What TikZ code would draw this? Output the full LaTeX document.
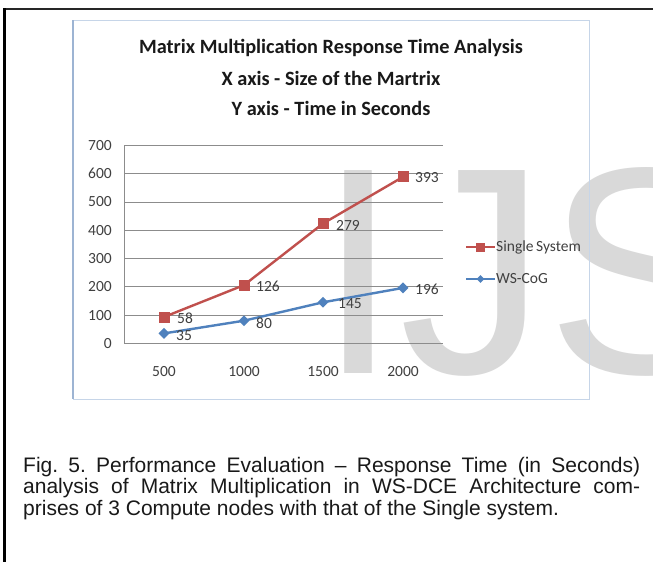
\documentclass[tikz,border=0pt]{standalone}
\usepackage{fontspec}
\usetikzlibrary{shapes.geometric}
\setmainfont{Liberation Sans}
\newfontfamily\calib{Carlito}
\frenchspacing
\definecolor{exred}{HTML}{C0504D}
\definecolor{exblue}{HTML}{4F81BD}
\definecolor{gridgray}{HTML}{8C8C8C}
\definecolor{chartframe}{HTML}{C6D5E8}
\definecolor{chartleft}{HTML}{9DB4D3}
\definecolor{wmgray}{HTML}{D9D9D9}
\definecolor{lbl}{HTML}{404040}
\begin{document}
\begin{tikzpicture}[x=1pt,y=-1pt,
  charttitle/.style={font=\calib\bfseries\fontsize{20.3}{24}\selectfont, text=black!90, inner sep=0},
  ticklbl/.style={font=\calib\fontsize{15.5}{18}\selectfont, text=lbl, inner sep=0},
  datalbl/.style={font=\calib\fontsize{15.5}{18}\selectfont, text=lbl, inner sep=0, anchor=west},
  gridline/.style={draw=gridgray, line width=1pt},
  redline/.style={draw=exred, line width=2.4pt},
  blueline/.style={draw=exblue, line width=2.4pt},
  redmark/.style={rectangle, fill=exred, minimum size=11pt, inner sep=0},
  bluemark/.style={diamond, fill=exblue, minimum width=11pt, minimum height=11pt, inner sep=0},
  legmark/.style={rectangle, fill=exred, minimum size=9pt, inner sep=0},
  legbmark/.style={diamond, fill=exblue, minimum width=8pt, minimum height=8pt, inner sep=0},
]
\clip (0,0) rectangle (653,562);
\fill[white] (0,0) rectangle (653,562);

% watermark
\node[anchor=base west, font=\fontsize{295}{295}\selectfont, text=wmgray, inner sep=0] (wm) at (317,373) {IJS};

% outer frame
\draw[line width=2.6pt, black!85] (3,9) -- (653,9);
\draw[line width=2.2pt, black] (4.5,8) -- (4.5,562);

% chart frame
\draw[chartframe, line width=1pt] (73,20) rectangle (589,399);
\draw[chartleft, line width=1.6pt] (73,20) -- (73,399);

% title
\node[charttitle] (t1) at (331,48) {Matrix Multiplication Response Time Analysis};
\node[charttitle] (t2) at (331,78) {X axis - Size of the Martrix};
\node[charttitle] (t3) at (331,108) {Y axis - Time in Seconds};

% grid and axis
\foreach \v/\w in {0/1.2,100/0.8,200/1.2,300/0.8,400/1.2,500/0.8,600/1.2,700/1} {
  \draw[gridline, line width=\w pt] (124,{343.3-0.2826*\v}) -- (443,{343.3-0.2826*\v});
  \node[ticklbl, anchor=east] (y\v) at (112,{343.3-0.2826*\v}) {\v};
}
\draw[gridline] (124,145) -- (124,343.3);

% x labels
\node[ticklbl] (x500) at (164,372) {500};
\node[ticklbl] (x1000) at (244,372) {1000};
\node[ticklbl] (x1500) at (323,372) {1500};
\node[ticklbl] (x2000) at (403,372) {2000};

% data points
\coordinate (r1) at (164,317.0);
\coordinate (r2) at (244,285.1);
\coordinate (r3) at (323,223.5);
\coordinate (r4) at (403,176.9);
\coordinate (b1) at (164,333.4);
\coordinate (b2) at (244,320.7);
\coordinate (b3) at (323,302.3);
\coordinate (b4) at (403,287.9);

\draw[redline] (r1) -- (r2) -- (r3) -- (r4);
\draw[blueline] (b1) -- (b2) -- (b3) -- (b4);
\foreach \p in {r1,r2,r3,r4} \node[redmark] (m\p) at (\p) {};
\foreach \p in {b1,b2,b3,b4} \node[bluemark] (m\p) at (\p) {};

% data labels
\node[datalbl] (l58) at (177,318) {58};
\node[datalbl] (l35) at (176,336) {35};
\node[datalbl] (l126) at (256,286) {126};
\node[datalbl] (l80) at (256,323) {80};
\node[datalbl] (l279) at (336,225) {279};
\node[datalbl] (l145) at (338,304) {145};
\node[datalbl] (l393) at (415,178) {393};
\node[datalbl] (l196) at (415,289) {196};

% legend
\coordinate (la) at (466,247);
\coordinate (lb) at (495,247);
\coordinate (lc) at (466,279);
\coordinate (ld) at (495,279);
\draw[redline, line width=2pt] (la) -- (lb);
\draw[blueline, line width=2pt] (lc) -- (ld);
\node[legmark] (lgr) at (480.5,247) {};
\node[legbmark] (lgb) at (480.5,279) {};
\node[datalbl] (lgt1) at (496,247) {Single\,System};
\node[datalbl] (lgt2) at (496,279) {WS-CoG};

% caption
\node[anchor=base west, text width=617pt, align=justify, inner sep=0,
      font=\fontsize{21}{21.5}\selectfont, text=black!90] (cap) at (23,472)
  {Fig. 5. Performance Evaluation -- Response Time (in Seconds)\linebreak
   analysis of Matrix Multiplication in WS-DCE Architecture com-\linebreak
   prises of 3 Compute nodes with that of the Single system.};
\end{tikzpicture}
\end{document}
